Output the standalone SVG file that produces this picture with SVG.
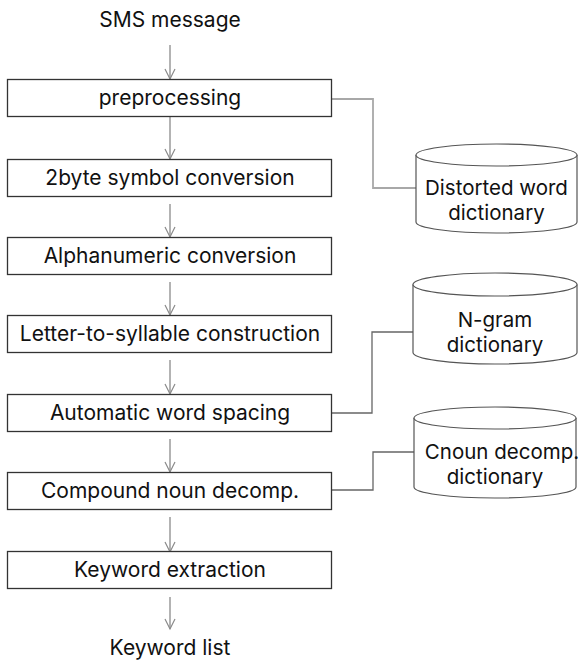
<svg xmlns="http://www.w3.org/2000/svg" width="579" height="663" viewBox="0 0 579 663">
<defs>
<style>
text{font-family:Inter,"Open Sans","DejaVu Sans",sans-serif;font-size:21px;fill:#111;text-anchor:middle}
.c{font-size:20.5px}
.box{fill:#fff;stroke:#333;stroke-width:1.3}
.cyl{fill:#fff;stroke:#555;stroke-width:1.2}
.arr{stroke:#8a8a8a;stroke-width:1.3;fill:none}
.head{stroke:#8a8a8a;stroke-width:1.2;fill:none}
.con{stroke:#666;stroke-width:1.3;fill:none}
.con1{stroke:#a8a8a8;stroke-width:1.8;fill:none}
</style>
</defs>
<g id="connectors">
<line class="arr" x1="170" y1="45" x2="170" y2="79"/>
<path class="head" d="M165,69 L170,79 L175,69"/>
<line class="arr" x1="170" y1="117" x2="170" y2="159"/>
<path class="head" d="M165,149 L170,159 L175,149"/>
<line class="arr" x1="170" y1="204" x2="170" y2="237"/>
<path class="head" d="M165,227 L170,237 L175,227"/>
<line class="arr" x1="170" y1="282" x2="170" y2="315"/>
<path class="head" d="M165,305 L170,315 L175,305"/>
<line class="arr" x1="170" y1="360" x2="170" y2="394"/>
<path class="head" d="M165,384 L170,394 L175,384"/>
<line class="arr" x1="170" y1="439" x2="170" y2="472"/>
<path class="head" d="M165,462 L170,472 L175,462"/>
<line class="arr" x1="170" y1="517" x2="170" y2="552"/>
<path class="head" d="M165,542 L170,552 L175,542"/>
<line class="arr" x1="170" y1="597" x2="170" y2="629"/>
<path class="head" d="M165,619 L170,629 L175,619"/>
<path class="con1" d="M332,99 H373 V188 H416"/>
<path class="con" d="M332,413 H372 V332 H413"/>
<path class="con" d="M332,490 H373 V452 H414"/>
</g>
<g id="sms"><text x="170" y="27">SMS message</text></g>
<g id="preprocessing"><rect class="box" x="7.5" y="79.5" width="324" height="37"/><text x="170" y="105">preprocessing</text></g>
<g id="symbol"><rect class="box" x="7.5" y="159.5" width="324" height="37"/><text x="170" y="185">2byte symbol conversion</text></g>
<g id="alnum"><rect class="box" x="7.5" y="237.5" width="324" height="37"/><text x="170" y="263">Alphanumeric conversion</text></g>
<g id="letter"><rect class="box" x="7.5" y="315.5" width="324" height="37"/><text x="170" y="341">Letter-to-syllable construction</text></g>
<g id="spacing"><rect class="box" x="7.5" y="394.5" width="324" height="37"/><text x="170" y="420">Automatic word spacing</text></g>
<g id="compound"><rect class="box" x="7.5" y="472.5" width="324" height="37"/><text x="170" y="498">Compound noun decomp.</text></g>
<g id="keyword"><rect class="box" x="7.5" y="551.5" width="324" height="37"/><text x="170" y="577">Keyword extraction</text></g>
<g id="kwlist"><text x="170" y="655">Keyword list</text></g>
<g id="dict1">
<path class="cyl" d="M416,155 V222 A80.5,11 0 0 0 577,222 V155"/>
<ellipse class="cyl" cx="496.5" cy="155" rx="80.5" ry="11"/>
<text class="c" x="496.5" y="195">Distorted word<tspan x="496.5" dy="25">dictionary</tspan></text>
</g>
<g id="dict2">
<path class="cyl" d="M413,284.5 V352.5 A82,11.5 0 0 0 577,352.5 V284.5"/>
<ellipse class="cyl" cx="495" cy="284.5" rx="82" ry="11.5"/>
<text class="c" x="495" y="327">N-gram<tspan x="495" dy="25">dictionary</tspan></text>
</g>
<g id="dict3">
<path class="cyl" d="M414,418 V487 A81,11 0 0 0 576,487 V418"/>
<ellipse class="cyl" cx="495" cy="418" rx="81" ry="11"/>
<text class="c" x="502" y="459">Cnoun decomp.<tspan x="495" dy="25">dictionary</tspan></text>
</g>
</svg>
